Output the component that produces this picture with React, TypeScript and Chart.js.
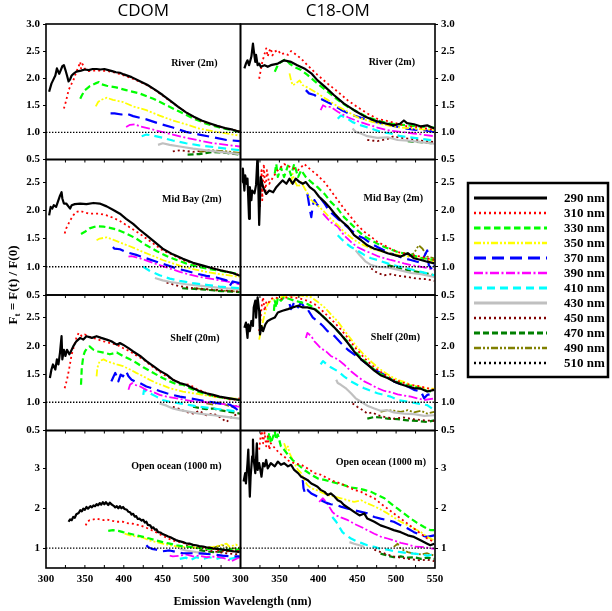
import { useEffect, useRef } from 'react';
import { Chart, registerables } from 'chart.js';

Chart.register(...registerables);

type Pt = [number, number];

const wavelengths = ['290 nm', '310 nm', '330 nm', '350 nm', '370 nm', '390 nm', '410 nm', '430 nm', '450 nm', '470 nm', '490 nm', '510 nm'];
const columnTitles = ['CDOM', 'C18-OM'];
const rowLabels = ['River (2m)', 'Mid Bay (2m)', 'Shelf (20m)', 'Open ocean (1000 m)'];
const xTickValues = [300, 350, 400, 450, 500, 550];
const xMinorTicks = [325, 350, 375, 400, 425, 450, 475, 500, 525];
const yTicksUpper = [0.5, 1.0, 1.5, 2.0, 2.5, 3.0];
const yTicksLower = [1, 2, 3];
const yRanges: Pt[] = [[0.5, 3.0], [0.5, 2.9], [0.5, 2.9], [0.5, 3.95]];
const referenceLevel = 1;

// each panel: one series per wavelength (290 ... 510 nm), points are [nm, Ft]
const cdomRiver: Pt[][] = [
  [[304,1.75],[307,1.9],[309,1.96],[312,2.05],[314,2.18],[317,2.08],[319,2.15],[321,2.22],[323,2.24],[325,2.15],[327,2.05],[329,1.94],[331,1.98],[333,2.05],[336,2.09],[339,2.12],[345,2.14],[350,2.16],[355,2.15],[360,2.17],[365,2.17],[370,2.16],[375,2.17],[380,2.15],[385,2.13],[390,2.11],[395,2.1],[400,2.07],[410,2.02],[420,1.95],[430,1.88],[440,1.79],[450,1.69],[460,1.58],[470,1.47],[480,1.37],[490,1.29],[500,1.22],[510,1.17],[520,1.12],[530,1.08],[540,1.05],[549,1.01]],
  [[323,1.44],[326,1.59],[329,1.78],[333,1.9],[336,1.99],[339,2.12],[342,2.22],[344,2.3],[345,2.18],[347,2.26],[350,2.17],[355,2.13],[360,2.14],[370,2.14],[380,2.13],[390,2.1],[400,2.05],[410,2.0],[420,1.94],[430,1.87],[440,1.78],[450,1.68],[460,1.57],[470,1.47],[480,1.37],[490,1.28],[500,1.21],[510,1.16],[520,1.12],[530,1.08],[540,1.05],[549,1.02]],
  [[344,1.62],[346,1.68],[350,1.78],[356,1.85],[363,1.9],[368,1.93],[371,1.89],[378,1.86],[390,1.83],[403,1.78],[420,1.72],[438,1.62],[455,1.5],[472,1.38],[489,1.26],[506,1.16],[523,1.09],[540,1.04],[549,1.01]],
  [[364,1.48],[367,1.56],[371,1.6],[378,1.64],[386,1.6],[399,1.56],[412,1.48],[429,1.41],[446,1.31],[463,1.22],[480,1.15],[497,1.07],[515,1.02],[532,0.98],[549,0.94]],
  [[383,1.35],[388,1.35],[397,1.33],[403,1.35],[412,1.3],[429,1.24],[446,1.16],[463,1.09],[480,1.01],[497,0.96],[515,0.91],[532,0.86],[549,0.84]],
  [[403,1.1],[408,1.14],[414,1.15],[421,1.11],[433,1.07],[446,1.02],[463,0.96],[480,0.9],[497,0.85],[515,0.8],[532,0.77],[549,0.74]],
  [[423,0.93],[429,0.96],[438,0.94],[450,0.9],[463,0.85],[480,0.8],[497,0.76],[515,0.73],[532,0.7],[549,0.67]],
  [[444,0.77],[450,0.8],[459,0.77],[472,0.74],[489,0.7],[506,0.67],[523,0.64],[549,0.6]],
  [[463,0.65],[472,0.67],[489,0.64],[506,0.67],[523,0.64],[549,0.6]],
  [[482,0.59],[497,0.6],[514,0.64],[532,0.62],[549,0.59]],
  [[497,0.64],[514,0.67],[532,0.65],[549,0.62]],
  [],
];

const c18River: Pt[][] = [
  [[305,2.18],[307,2.27],[309,2.33],[311,2.24],[314,2.4],[316,2.64],[317,2.52],[319,2.3],[320,2.43],[322,2.24],[324,2.27],[326,2.21],[331,2.24],[335,2.21],[339,2.24],[348,2.27],[356,2.33],[365,2.3],[373,2.24],[382,2.18],[391,2.09],[399,1.96],[408,1.85],[420,1.69],[433,1.53],[446,1.41],[459,1.3],[472,1.22],[485,1.17],[497,1.13],[505,1.16],[510,1.22],[514,1.17],[523,1.15],[532,1.11],[540,1.13],[549,1.07]],
  [[324,1.99],[328,2.3],[331,2.45],[333,2.55],[335,2.4],[337,2.5],[339,2.55],[341,2.42],[344,2.49],[348,2.52],[352,2.44],[356,2.46],[361,2.43],[365,2.5],[369,2.46],[378,2.36],[386,2.24],[399,2.06],[412,1.9],[425,1.75],[438,1.59],[450,1.47],[463,1.35],[476,1.25],[489,1.21],[502,1.16],[515,1.11],[527,1.1],[540,1.07],[549,1.05]],
  [[344,2.12],[348,2.24],[352,2.3],[358,2.35],[363,2.27],[369,2.21],[378,2.15],[386,2.06],[399,1.9],[412,1.75],[425,1.6],[438,1.47],[450,1.38],[463,1.28],[476,1.22],[489,1.17],[502,1.15],[515,1.13],[527,1.11],[549,1.09]],
  [[363,2.09],[365,1.96],[367,1.87],[371,1.9],[376,1.96],[380,1.87],[386,1.83],[399,1.72],[412,1.6],[425,1.48],[438,1.38],[450,1.28],[463,1.22],[476,1.17],[489,1.13],[506,1.09],[523,1.07],[549,1.04]],
  [[384,1.78],[388,1.72],[395,1.69],[403,1.62],[416,1.53],[429,1.42],[442,1.33],[455,1.27],[468,1.21],[480,1.17],[493,1.13],[506,1.09],[523,1.05],[536,1.04],[549,1.01]],
  [[403,1.41],[406,1.5],[410,1.47],[416,1.47],[425,1.38],[438,1.28],[450,1.21],[463,1.15],[476,1.09],[489,1.04],[506,1.01],[523,0.98],[549,0.93]],
  [[425,1.25],[429,1.31],[436,1.27],[444,1.19],[455,1.13],[468,1.07],[480,1.01],[493,0.98],[506,0.93],[523,0.9],[549,0.85]],
  [[444,1.07],[448,1.01],[455,0.98],[463,0.93],[476,0.9],[489,0.91],[502,0.86],[515,0.85],[532,0.82],[549,0.79]],
  [[463,0.86],[476,0.84],[489,0.88],[497,0.93],[506,0.9],[519,0.88],[532,0.85],[549,0.82]],
  [[515,0.84],[532,0.82],[549,0.8]],
  [],
  [],
];

const cdomMidBay: Pt[][] = [
  [[304,1.91],[306,2.06],[308,2.03],[310,2.09],[313,2.06],[316,2.18],[318,2.26],[320,2.32],[321,2.21],[323,2.12],[326,2.12],[331,2.03],[333,2.09],[337,2.11],[344,2.12],[352,2.11],[361,2.13],[369,2.12],[378,2.07],[386,2.01],[395,1.94],[403,1.85],[412,1.76],[420,1.66],[429,1.56],[438,1.46],[450,1.32],[463,1.22],[476,1.14],[489,1.07],[502,1.02],[515,0.97],[527,0.93],[540,0.89],[549,0.84]],
  [[324,1.59],[326,1.68],[331,1.82],[335,1.91],[339,1.97],[344,1.99],[348,1.97],[356,1.94],[369,1.94],[378,1.91],[386,1.87],[395,1.81],[403,1.74],[412,1.66],[420,1.59],[429,1.5],[438,1.41],[450,1.29],[463,1.21],[476,1.12],[489,1.06],[502,1.01],[515,0.97],[527,0.93],[540,0.89],[549,0.85]],
  [[345,1.58],[350,1.62],[356,1.68],[365,1.72],[374,1.71],[382,1.69],[391,1.66],[403,1.59],[416,1.5],[429,1.38],[442,1.28],[455,1.19],[468,1.12],[480,1.06],[493,1.01],[506,0.97],[519,0.94],[532,0.91],[549,0.87]],
  [[365,1.47],[369,1.5],[378,1.52],[386,1.48],[399,1.41],[412,1.34],[425,1.26],[438,1.19],[450,1.12],[463,1.06],[476,1.0],[489,0.96],[506,0.91],[523,0.87],[549,0.82]],
  [[386,1.35],[388,1.32],[395,1.31],[403,1.26],[416,1.21],[429,1.15],[442,1.09],[455,1.03],[468,0.97],[480,0.93],[493,0.88],[506,0.84],[519,0.81],[532,0.76],[536,0.66],[540,0.74],[549,0.71]],
  [[406,1.18],[410,1.19],[421,1.15],[433,1.09],[446,1.03],[459,0.97],[472,0.91],[485,0.86],[497,0.82],[515,0.78],[532,0.74],[549,0.69]],
  [[425,1.0],[433,0.93],[446,0.85],[459,0.79],[472,0.75],[489,0.71],[506,0.68],[523,0.65],[549,0.62]],
  [[440,0.8],[450,0.76],[460,0.73],[480,0.69],[500,0.66],[520,0.63],[549,0.6]],
  [[455,0.72],[470,0.66],[490,0.62],[510,0.6],[530,0.58],[549,0.56]],
  [[475,0.62],[500,0.6],[525,0.57],[549,0.55]],
  [[490,0.62],[520,0.58],[549,0.56]],
  [],
];

const c18MidBay: Pt[][] = [
  [[302,2.5],[303,2.74],[305,2.35],[306,2.62],[308,2.47],[309,2.56],[311,1.85],[312,2.41],[314,2.18],[315,2.35],[318,2.3],[320,2.45],[322,3.0],[324,1.74],[326,2.59],[329,2.41],[333,2.29],[337,2.35],[342,2.32],[346,2.41],[350,2.47],[354,2.53],[359,2.47],[363,2.56],[367,2.47],[371,2.56],[376,2.5],[380,2.47],[384,2.5],[389,2.41],[395,2.35],[401,2.24],[408,2.15],[414,2.06],[421,1.94],[429,1.82],[438,1.71],[446,1.56],[455,1.47],[463,1.38],[472,1.32],[480,1.29],[489,1.24],[497,1.21],[506,1.18],[515,1.24],[523,1.15],[532,1.12],[540,1.09],[549,1.06]],
  [[325,2.06],[327,2.71],[328,2.18],[330,2.82],[332,2.29],[334,2.71],[337,2.47],[342,2.59],[348,2.71],[356,2.82],[365,2.76],[374,2.71],[382,2.82],[391,2.71],[399,2.62],[408,2.5],[416,2.35],[425,2.18],[433,2.03],[442,1.88],[450,1.74],[459,1.62],[468,1.53],[476,1.44],[485,1.38],[493,1.32],[502,1.26],[510,1.24],[519,1.21],[532,1.18],[549,1.12]],
  [[344,2.65],[346,2.82],[348,2.59],[352,2.76],[356,2.59],[361,2.79],[365,2.62],[369,2.82],[374,2.59],[378,2.71],[384,2.59],[391,2.5],[399,2.41],[408,2.29],[416,2.15],[425,2.03],[433,1.88],[442,1.76],[450,1.65],[459,1.54],[468,1.47],[476,1.41],[485,1.35],[493,1.31],[502,1.26],[510,1.24],[519,1.21],[532,1.16],[549,1.12]],
  [[365,2.47],[367,2.65],[369,2.53],[374,2.41],[378,2.5],[384,2.35],[391,2.18],[399,2.09],[408,1.97],[416,1.85],[425,1.74],[433,1.62],[442,1.52],[450,1.44],[459,1.38],[468,1.32],[476,1.29],[485,1.26],[493,1.24],[502,1.21],[510,1.19],[519,1.18],[532,1.15],[544,1.12],[549,1.09]],
  [[386,2.29],[389,2.03],[391,1.88],[393,2.09],[395,2.18],[399,2.09],[403,2.21],[408,2.12],[412,2.03],[418,1.94],[425,1.85],[433,1.76],[442,1.65],[450,1.56],[459,1.5],[468,1.41],[476,1.35],[485,1.29],[493,1.24],[502,1.19],[510,1.15],[519,1.12],[532,1.07],[540,1.29],[542,1.03],[547,0.94],[549,1.03]],
  [[406,1.94],[410,1.88],[416,1.79],[425,1.71],[433,1.56],[442,1.44],[450,1.35],[459,1.29],[468,1.24],[476,1.19],[485,1.15],[493,1.12],[502,1.09],[510,1.06],[519,1.03],[532,1.0],[549,0.95]],
  [[425,1.56],[429,1.5],[436,1.41],[442,1.35],[450,1.29],[459,1.21],[468,1.15],[476,1.12],[489,1.06],[502,1.01],[515,0.97],[532,0.91],[549,0.85]],
  [[448,1.29],[453,1.21],[457,1.15],[461,1.09],[468,1.03],[476,1.0],[489,0.99],[502,0.95],[519,0.89],[532,0.87],[549,0.82]],
  [[468,0.97],[476,0.89],[485,0.85],[493,0.87],[502,0.84],[515,0.82],[527,0.79],[540,0.78],[549,0.75]],
  [[489,1.03],[497,1.0],[506,0.97],[515,0.94],[527,0.91],[540,0.88],[549,0.85]],
  [[515,1.18],[523,1.24],[529,1.38],[534,1.32],[540,1.18],[549,1.15]],
  [],
];

const cdomShelf: Pt[][] = [
  [[305,1.43],[307,1.58],[309,1.67],[312,1.58],[314,1.76],[316,1.67],[318,1.88],[320,2.17],[321,1.76],[323,1.93],[325,1.82],[327,1.93],[330,1.85],[332,1.9],[335,1.99],[339,2.08],[344,2.14],[348,2.11],[352,2.17],[359,2.14],[365,2.17],[371,2.14],[378,2.11],[384,2.08],[391,2.02],[395,2.05],[399,2.02],[406,1.96],[412,1.9],[421,1.82],[429,1.73],[438,1.64],[446,1.56],[455,1.49],[463,1.4],[472,1.34],[480,1.31],[489,1.25],[497,1.2],[506,1.16],[515,1.13],[523,1.1],[536,1.07],[549,1.04]],
  [[324,1.25],[327,1.4],[330,1.61],[333,1.85],[336,1.99],[339,2.14],[342,2.23],[346,2.17],[350,2.2],[354,2.17],[361,2.14],[367,2.11],[374,2.08],[382,2.05],[391,2.02],[399,1.96],[408,1.9],[416,1.83],[425,1.76],[433,1.67],[442,1.58],[450,1.5],[459,1.43],[468,1.37],[476,1.32],[485,1.31],[493,1.24],[502,1.19],[510,1.13],[519,1.1],[527,1.08],[540,1.04],[549,1.07]],
  [[345,1.31],[346,1.61],[348,1.82],[350,1.9],[353,1.96],[356,1.99],[361,1.93],[367,1.9],[374,1.88],[382,1.85],[391,1.88],[399,1.82],[408,1.76],[416,1.7],[425,1.62],[433,1.56],[442,1.49],[450,1.43],[459,1.37],[468,1.32],[476,1.31],[485,1.25],[493,1.2],[502,1.16],[510,1.13],[519,1.1],[532,1.07],[549,1.04]],
  [[365,1.46],[366,1.61],[369,1.73],[374,1.76],[378,1.73],[384,1.7],[391,1.67],[399,1.64],[408,1.58],[416,1.52],[425,1.46],[433,1.4],[442,1.34],[450,1.3],[459,1.25],[468,1.22],[476,1.19],[489,1.16],[502,1.13],[515,1.1],[532,1.07],[549,1.06]],
  [[384,1.37],[386,1.43],[389,1.52],[391,1.46],[393,1.37],[396,1.49],[399,1.46],[403,1.55],[406,1.46],[410,1.4],[414,1.37],[421,1.34],[429,1.28],[438,1.24],[446,1.2],[455,1.16],[463,1.13],[472,1.1],[485,1.07],[497,1.04],[510,1.01],[523,0.98],[536,0.96],[544,0.89],[549,0.83]],
  [[406,1.22],[408,1.31],[411,1.34],[414,1.31],[421,1.28],[429,1.22],[438,1.18],[446,1.13],[455,1.1],[468,1.07],[480,1.04],[493,1.01],[506,1.0],[519,0.98],[532,0.96],[549,0.92]],
  [[425,1.13],[426,1.22],[429,1.19],[433,1.16],[442,1.1],[450,1.04],[459,1.01],[472,0.98],[485,0.95],[497,0.92],[515,0.89],[532,0.86],[549,0.83]],
  [[446,0.98],[455,0.94],[463,0.89],[472,0.86],[485,0.83],[497,0.8],[515,0.77],[532,0.74],[549,0.71]],
  [[463,0.92],[472,0.88],[480,0.83],[489,0.8],[497,0.85],[506,0.77],[515,0.8],[523,0.74],[532,0.65],[540,0.76],[549,0.8]],
  [[489,0.92],[497,0.9],[506,0.88],[515,0.89],[523,0.86],[536,0.83],[549,0.8]],
  [[506,0.98],[515,0.96],[523,1.0],[532,0.95],[540,0.92],[549,0.95]],
  [],
];

const c18Shelf: Pt[][] = [
  [[305,2.32],[307,2.41],[309,2.14],[310,2.38],[312,2.26],[314,2.44],[316,2.35],[317,2.68],[319,2.8],[320,2.5],[322,2.86],[324,2.62],[325,2.2],[327,2.35],[329,2.26],[332,2.38],[335,2.44],[339,2.47],[344,2.5],[348,2.59],[354,2.62],[361,2.65],[367,2.68],[374,2.71],[380,2.68],[386,2.68],[395,2.65],[403,2.56],[412,2.44],[421,2.32],[429,2.2],[438,2.05],[446,1.9],[455,1.76],[463,1.67],[472,1.56],[480,1.48],[489,1.43],[497,1.37],[506,1.32],[515,1.28],[523,1.25],[532,1.24],[540,1.19],[549,1.22]],
  [[324,2.26],[326,2.5],[327,2.68],[329,2.86],[331,2.62],[333,2.77],[335,2.74],[339,2.83],[344,2.86],[352,2.83],[361,2.86],[369,2.86],[378,2.83],[386,2.8],[395,2.74],[403,2.65],[412,2.53],[421,2.41],[429,2.29],[438,2.14],[446,1.99],[455,1.85],[463,1.73],[472,1.62],[480,1.54],[489,1.46],[497,1.4],[506,1.36],[515,1.32],[523,1.3],[532,1.28],[540,1.25],[549,1.22]],
  [[343,2.62],[344,2.8],[346,2.68],[348,2.86],[352,2.8],[356,2.86],[363,2.83],[369,2.8],[378,2.77],[386,2.74],[395,2.67],[403,2.56],[412,2.45],[421,2.32],[429,2.2],[438,2.07],[446,1.92],[455,1.79],[463,1.68],[472,1.58],[480,1.5],[489,1.44],[497,1.38],[506,1.34],[515,1.3],[523,1.28],[532,1.24],[540,1.2],[549,1.19]],
  [[324,2.11],[327,2.32],[329,2.44],[331,2.56],[333,2.65],[335,2.74],[339,2.8],[344,2.83],[352,2.86],[365,2.89],[378,2.89],[391,2.86],[399,2.78],[408,2.68],[416,2.56],[425,2.43],[433,2.28],[442,2.12],[450,1.97],[459,1.84],[468,1.72],[476,1.62],[485,1.53],[493,1.46],[502,1.4],[510,1.36],[519,1.31],[527,1.28],[536,1.25],[549,1.24]],
  [[363,2.74],[365,2.65],[369,2.77],[374,2.68],[378,2.77],[382,2.68],[386,2.65],[393,2.5],[399,2.44],[406,2.35],[412,2.26],[421,2.17],[429,2.05],[438,1.93],[446,1.85],[455,1.76],[463,1.67],[472,1.58],[480,1.52],[489,1.46],[497,1.37],[506,1.32],[515,1.28],[523,1.22],[532,1.19],[536,1.07],[540,1.13],[549,1.16]],
  [[384,2.14],[386,2.23],[391,2.17],[395,2.08],[399,2.02],[403,1.96],[410,1.9],[416,1.82],[425,1.76],[433,1.67],[442,1.55],[450,1.46],[459,1.37],[468,1.31],[476,1.25],[485,1.2],[493,1.18],[502,1.14],[510,1.12],[519,1.1],[527,1.07],[536,1.04],[549,1.07]],
  [[403,1.67],[406,1.73],[410,1.68],[416,1.62],[425,1.55],[433,1.46],[442,1.37],[450,1.31],[459,1.25],[468,1.2],[476,1.16],[485,1.13],[493,1.1],[502,1.04],[515,1.01],[527,0.98],[540,0.95],[549,0.86]],
  [[423,1.4],[425,1.34],[429,1.31],[436,1.24],[442,1.16],[448,1.07],[455,1.01],[463,0.94],[472,0.89],[480,0.85],[489,0.86],[497,0.82],[510,0.8],[523,0.79],[536,0.76],[549,0.77]],
  [[444,0.98],[450,0.92],[457,0.86],[463,0.8],[470,0.82],[476,0.77],[485,0.74],[497,0.71],[510,0.73],[523,0.7],[536,0.68],[549,0.67]],
  [[463,0.71],[472,0.74],[480,0.73],[489,0.71],[502,0.7],[515,0.68],[527,0.67],[540,0.65],[549,0.68]],
  [[480,0.83],[489,0.86],[497,0.85],[506,0.83],[515,0.86],[523,0.82],[532,0.85],[540,0.8],[549,0.83]],
  [],
];

const cdomOcean: Pt[][] = [
  [[329,1.66],[331,1.72],[333,1.7],[335,1.78],[337,1.76],[339,1.85],[342,1.88],[344,1.95],[346,1.92],[348,1.99],[350,1.96],[352,2.03],[354,1.99],[357,2.05],[359,2.02],[361,2.07],[363,2.05],[365,2.1],[367,2.07],[369,2.13],[371,2.09],[373,2.15],[375,2.1],[377,2.15],[380,2.08],[382,2.14],[384,2.1],[387,2.06],[389,2.02],[391,2.05],[393,2.0],[395,2.05],[397,2.0],[399,2.03],[401,1.98],[404,1.96],[406,1.91],[408,1.9],[410,1.84],[412,1.86],[414,1.79],[416,1.8],[418,1.73],[420,1.74],[423,1.69],[425,1.71],[427,1.64],[429,1.66],[431,1.58],[434,1.57],[436,1.5],[438,1.52],[440,1.46],[442,1.47],[444,1.4],[447,1.39],[450,1.35],[453,1.33],[457,1.29],[460,1.27],[463,1.24],[467,1.2],[470,1.18],[476,1.15],[480,1.12],[485,1.11],[489,1.08],[493,1.07],[497,1.05],[502,1.04],[506,1.02],[510,1.01],[515,0.99],[519,0.98],[523,0.97],[527,0.96],[532,0.95],[536,0.94],[540,0.92],[545,0.91],[549,0.9]],
  [[351,1.57],[353,1.66],[356,1.7],[361,1.72],[365,1.74],[369,1.72],[374,1.7],[378,1.72],[382,1.7],[386,1.68],[391,1.66],[395,1.66],[399,1.66],[403,1.63],[412,1.61],[421,1.57],[429,1.51],[438,1.43],[446,1.35],[455,1.26],[463,1.19],[472,1.15],[480,1.11],[489,1.07],[497,1.03],[506,1.01],[515,0.98],[523,0.94],[536,0.92],[549,0.92]],
  [[380,1.43],[386,1.45],[393,1.43],[399,1.4],[408,1.36],[416,1.32],[425,1.28],[433,1.24],[442,1.19],[450,1.15],[459,1.11],[468,1.07],[476,1.04],[485,1.03],[493,1.01],[506,0.98],[519,0.98],[532,0.96],[549,0.96]],
  [[401,1.36],[408,1.32],[416,1.29],[425,1.26],[433,1.19],[442,1.15],[450,1.11],[459,1.07],[468,1.04],[476,1.03],[489,1.01],[502,1.01],[515,1.03],[523,1.07],[532,1.11],[536,1.03],[544,1.09],[549,1.03]],
  [[429,1.07],[431,1.03],[436,0.98],[442,0.96],[450,0.92],[459,0.94],[468,0.9],[476,0.87],[489,0.87],[502,0.86],[515,0.84],[527,0.81],[540,0.79],[549,0.79]],
  [[459,0.81],[463,0.79],[472,0.81],[480,0.84],[489,0.79],[497,0.81],[506,0.77],[519,0.79],[532,0.73],[538,0.67],[549,0.77]],
  [[472,0.73],[480,0.76],[485,0.69],[493,0.77],[502,0.73],[510,0.77],[519,0.73],[527,0.77],[536,0.73],[549,0.77]],
  [[472,0.98],[480,0.94],[493,0.9],[506,0.87]],
  [[480,1.07],[497,0.98],[515,0.92],[532,0.87],[549,0.84]],
  [[497,0.94],[515,0.9],[532,0.92],[549,0.96]],
  [[515,1.01],[527,1.07],[536,0.98],[549,1.01]],
  [],
];

const c18Ocean: Pt[][] = [
  [[304,2.67],[306,2.88],[307,2.62],[309,3.13],[310,3.47],[312,2.29],[313,2.79],[315,3.3],[316,3.72],[317,3.21],[319,2.88],[321,3.63],[322,2.96],[324,3.13],[327,2.79],[329,3.13],[331,3.05],[333,3.21],[335,3.0],[339,3.13],[344,3.05],[348,3.17],[352,3.09],[356,3.13],[361,3.05],[365,3.09],[369,2.96],[374,2.88],[378,2.79],[382,2.75],[386,2.71],[391,2.62],[395,2.58],[399,2.54],[403,2.46],[408,2.41],[412,2.33],[416,2.37],[421,2.29],[425,2.2],[429,2.16],[433,2.08],[440,1.99],[446,1.91],[453,1.82],[459,1.87],[463,1.74],[472,1.66],[480,1.57],[489,1.51],[497,1.45],[506,1.4],[515,1.32],[523,1.28],[532,1.19],[540,1.11],[544,1.07],[549,1.11]],
  [[324,3.47],[327,4.0],[329,3.63],[331,3.9],[333,3.55],[335,3.8],[337,3.47],[339,3.63],[344,3.51],[350,3.38],[356,3.3],[363,3.17],[369,3.13],[378,3.09],[386,3.0],[395,2.88],[403,2.84],[412,2.75],[421,2.67],[429,2.62],[438,2.54],[446,2.46],[455,2.41],[463,2.33],[472,2.25],[480,2.12],[489,1.99],[497,1.87],[506,1.74],[515,1.61],[523,1.49],[532,1.36],[540,1.24],[549,1.15]],
  [[335,3.72],[337,3.89],[339,3.63],[342,3.8],[344,3.93],[346,3.72],[348,3.85],[352,3.55],[356,3.47],[361,3.34],[367,3.21],[374,3.09],[382,2.96],[391,2.84],[399,2.75],[408,2.71],[416,2.67],[425,2.62],[433,2.58],[442,2.52],[450,2.5],[459,2.46],[468,2.41],[476,2.33],[485,2.25],[493,2.12],[502,1.99],[510,1.87],[519,1.74],[527,1.63],[536,1.53],[544,1.45],[549,1.45]],
  [[356,3.63],[359,3.47],[361,3.55],[363,3.38],[365,3.3],[369,3.13],[374,2.96],[378,2.88],[382,2.71],[386,2.58],[391,2.5],[397,2.46],[403,2.41],[412,2.33],[421,2.29],[429,2.25],[438,2.2],[446,2.16],[455,2.2],[463,2.12],[472,2.05],[480,1.97],[489,1.87],[497,1.77],[506,1.66],[515,1.57],[523,1.49],[532,1.4],[540,1.28],[549,1.19]],
  [[380,2.71],[381,2.5],[383,2.37],[386,2.46],[391,2.37],[395,2.33],[399,2.29],[403,2.2],[410,2.14],[416,2.1],[423,2.08],[429,2.04],[438,1.99],[446,1.95],[455,1.91],[463,1.87],[472,1.78],[480,1.74],[489,1.7],[497,1.66],[506,1.57],[515,1.49],[523,1.4],[532,1.32],[540,1.28],[549,1.32]],
  [[401,2.16],[406,2.25],[410,2.16],[414,2.04],[418,1.91],[423,1.82],[429,1.77],[438,1.7],[446,1.61],[455,1.53],[463,1.45],[472,1.36],[480,1.29],[489,1.24],[497,1.19],[506,1.13],[515,1.09],[523,1.04],[532,1.03],[540,1.01],[549,0.98]],
  [[418,1.78],[423,1.66],[427,1.53],[431,1.4],[436,1.32],[442,1.24],[448,1.18],[455,1.13],[463,1.07],[472,1.03],[480,0.98],[489,0.96],[497,0.92],[506,0.9],[515,0.87],[523,0.86],[532,0.84],[540,0.81],[549,0.84]],
  [[440,1.15],[446,1.11],[453,1.07],[459,1.03]],
  [[472,0.96],[480,0.9],[489,0.84],[497,0.79],[506,0.76],[515,0.73],[523,0.71],[532,0.69],[540,0.71],[549,0.67]],
  [[480,0.86],[489,0.81],[497,0.77],[506,0.79],[515,0.76],[523,0.77],[532,0.73],[540,0.76],[549,0.73]],
  [[497,1.03],[502,1.11],[506,0.98],[515,0.9],[523,0.86],[532,0.84],[540,0.87],[549,0.81]],
  [],
];

const lineStyles = [
  { color: '#000000', width: 2.2, dash: [] as number[] },
  { color: '#ff0000', width: 1.8, dash: [2, 3] },
  { color: '#00ff00', width: 2.2, dash: [6.5, 3.5] },
  { color: '#ffff00', width: 1.8, dash: [7, 2, 2, 2, 2, 2] },
  { color: '#0000ff', width: 2.2, dash: [12, 6] },
  { color: '#ff00ff', width: 1.8, dash: [9, 2.5, 2, 2.5] },
  { color: '#00ffff', width: 2.2, dash: [8, 5] },
  { color: '#c0c0c0', width: 2.2, dash: [] as number[] },
  { color: '#800000', width: 1.8, dash: [2, 3] },
  { color: '#008000', width: 2.2, dash: [6, 3] },
  { color: '#808000', width: 1.8, dash: [7, 2, 2, 2, 2, 2] },
  { color: '#000000', width: 1.6, dash: [2, 3] },
];

const rowHeights = [135.5, 135.5, 135.5, 137.5];
const labelInset = [[23, 19, 21, 19], [20, 12, 15, 9]];
const labelDrop = [[39, 40, 43, 36], [38, 39, 42, 32]];

const serif = '"Liberation Serif", "Times New Roman", serif';

const decorPlugin = {
  id: 'panelDecor',
  beforeDatasetDraw(chart: any, args: any) {
    const { xScale, yScale } = args.meta;
    const c = chart.ctx;
    c.save();
    c.beginPath();
    c.rect(xScale.left, yScale.top, xScale.right - xScale.left, yScale.bottom - yScale.top);
    c.clip();
  },
  afterDatasetDraw(chart: any) {
    chart.ctx.restore();
  },
  afterDatasetsDraw(chart: any) {
    const c = chart.ctx;
    for (let r = 0; r < 4; r++) {
      for (let col = 0; col < 2; col++) {
        const xs = chart.scales[col === 0 ? 'xL' : 'xR'];
        const ys = chart.scales[(col === 0 ? 'yL' : 'yR') + r];
        const { left, right } = xs;
        const { top, bottom } = ys;

        c.save();
        // dotted reference line at Ft = 1
        const y1 = ys.getPixelForValue(referenceLevel);
        c.strokeStyle = '#000';
        c.lineWidth = 1.3;
        c.setLineDash([1.4, 1.6]);
        c.beginPath();
        c.moveTo(left, y1);
        c.lineTo(right, y1);
        c.stroke();
        c.setLineDash([]);

        // small inward ticks
        c.lineWidth = 1;
        c.beginPath();
        xMinorTicks.forEach((v) => {
          const px = xs.getPixelForValue(v);
          if (r > 0) {
            c.moveTo(px, top);
            c.lineTo(px, top + 3);
          }
          if (r === 3) {
            c.moveTo(px, bottom);
            c.lineTo(px, bottom - 3);
          }
        });
        c.stroke();

        // frame
        c.lineWidth = 1.6;
        c.strokeRect(left, top, right - left, bottom - top);

        // panel label
        c.fillStyle = '#000';
        c.font = `bold 10px ${serif}`;
        c.textAlign = 'right';
        c.textBaseline = 'middle';
        c.fillText(rowLabels[r], right - labelInset[col][r], top + labelDrop[col][r]);
        c.restore();
      }
    }
  },
  afterDraw(chart: any) {
    const c = chart.ctx;
    const xL = chart.scales.xL;
    const xR = chart.scales.xR;
    c.save();
    c.fillStyle = '#000';

    // column titles
    c.font = '17px "Open Sans", sans-serif';
    c.textAlign = 'center';
    c.textBaseline = 'middle';
    c.fillText(columnTitles[0], (xL.left + xL.right) / 2, 11);
    c.fillText(columnTitles[1], (xR.left + xR.right) / 2, 11);

    // x axis title
    c.font = `bold 12px ${serif}`;
    c.fillText('Emission Wavelength (nm)', xL.right + 2, 602);

    // y axis title: F_t = F(t) / F(0)
    c.translate(14, 285);
    c.rotate(-Math.PI / 2);
    c.textAlign = 'left';
    const mainFont = `bold 13px ${serif}`;
    const subFont = `bold 9px ${serif}`;
    c.font = mainFont;
    const wF = c.measureText('F').width;
    const rest = ' = F(t) / F(0)';
    const wRest = c.measureText(rest).width;
    c.font = subFont;
    const wSub = c.measureText('t').width;
    const x0 = -(wF + wSub + wRest) / 2;
    c.font = mainFont;
    c.fillText('F', x0, 0);
    c.font = subFont;
    c.fillText('t', x0 + wF, 4);
    c.font = mainFont;
    c.fillText(rest, x0 + wF + wSub, 0);
    c.restore();

    // legend box
    c.save();
    c.strokeStyle = '#000';
    c.lineWidth = 2.5;
    c.strokeRect(468, 183, 140, 194);
    wavelengths.forEach((label, k) => {
      const y = 198 + 15 * k;
      const st = lineStyles[k];
      c.strokeStyle = st.color;
      c.lineWidth = st.width + 0.8;
      c.setLineDash(st.dash);
      c.beginPath();
      c.moveTo(474, y);
      c.lineTo(547, y);
      c.stroke();
      c.setLineDash([]);
      c.fillStyle = '#000';
      c.font = `bold 13px ${serif}`;
      c.textAlign = 'left';
      c.textBaseline = 'middle';
      c.fillText(label, 564, y + 1);
    });
    c.restore();
  },
};

export default function App() {
  const canvasRef = useRef<HTMLCanvasElement>(null);
  const chartRef = useRef<Chart | null>(null);

  useEffect(() => {
    if (!canvasRef.current) return;
    document.body.style.margin = '0';

    if (chartRef.current) {
      chartRef.current.destroy();
    }

    const ctx = canvasRef.current.getContext('2d');
    if (!ctx) return;

    const panelRows = [
      [cdomRiver, c18River],
      [cdomMidBay, c18MidBay],
      [cdomShelf, c18Shelf],
      [cdomOcean, c18Ocean],
    ];

    const datasets: any[] = [];
    panelRows.forEach((row, r) => {
      row.forEach((panel, col) => {
        panel.forEach((series, k) => {
          const st = lineStyles[k];
          datasets.push({
            label: wavelengths[k],
            data: series.map(([x, y]) => ({ x, y })),
            xAxisID: col === 0 ? 'xL' : 'xR',
            yAxisID: (col === 0 ? 'yL' : 'yR') + r,
            borderColor: st.color,
            borderWidth: st.width,
            borderDash: st.dash,
            borderJoinStyle: 'round',
            pointRadius: 0,
            pointHoverRadius: 0,
            fill: false,
            tension: 0,
          });
        });
      });
    });

    const tickFont = { family: serif, size: 11, weight: 'bold' as const };

    const makeY = (side: 'left' | 'right', r: number) => ({
      type: 'linear',
      position: side,
      stack: side === 'left' ? 'leftStack' : 'rightStack',
      stackWeight: rowHeights[r],
      weight: side === 'left' ? 4 - r : r,
      min: yRanges[r][0],
      max: yRanges[r][1],
      afterBuildTicks: (s: any) => {
        const vals = r === 3 ? yTicksLower : yTicksUpper;
        s.ticks = vals.filter((v) => v >= yRanges[r][0] && v <= yRanges[r][1]).map((v) => ({ value: v }));
      },
      ticks: {
        font: tickFont,
        color: '#000',
        padding: 3,
        autoSkip: false,
        callback: (v: any) => (r === 3 ? String(v) : Number(v).toFixed(1)),
      },
      grid: { drawOnChartArea: false, drawTicks: true, tickLength: 3, color: '#000', lineWidth: 1 },
      border: { display: false },
      afterFit: (s: any) => {
        s.width = side === 'left' ? 46 : 35;
      },
    });

    const makeX = (col: number) => ({
      type: 'linear',
      position: 'bottom',
      stack: 'bottomStack',
      stackWeight: 1,
      min: 300,
      max: 550,
      afterBuildTicks: (s: any) => {
        s.ticks = xTickValues.filter((v) => col === 1 || v < 550).map((v) => ({ value: v }));
      },
      ticks: { font: tickFont, color: '#000', padding: 5, autoSkip: false, maxRotation: 0 },
      grid: { display: false, drawTicks: false },
      border: { display: false },
      afterFit: (s: any) => {
        s.height = 22;
      },
    });

    const scales: Record<string, any> = {};
    for (let r = 0; r < 4; r++) scales['yL' + r] = makeY('left', r);
    for (let r = 0; r < 4; r++) scales['yR' + r] = makeY('right', r);
    scales.xL = makeX(0);
    scales.xR = makeX(1);

    chartRef.current = new Chart(ctx, {
      type: 'line',
      data: { datasets },
      options: {
        responsive: false,
        animation: false,
        events: [],
        layout: { padding: { left: 0, right: 142, top: 24, bottom: 21 } },
        plugins: {
          legend: { display: false },
          tooltip: { enabled: false },
        },
        scales,
      } as any,
      plugins: [decorPlugin as any],
    });

    return () => {
      if (chartRef.current) {
        chartRef.current.destroy();
        chartRef.current = null;
      }
    };
  }, []);

  return (
    <div style={{ position: 'absolute', left: 0, top: 0, width: 612, height: 611, background: '#fff' }}>
      <canvas ref={canvasRef} width={612} height={611} style={{ display: 'block' }} />
    </div>
  );
}
